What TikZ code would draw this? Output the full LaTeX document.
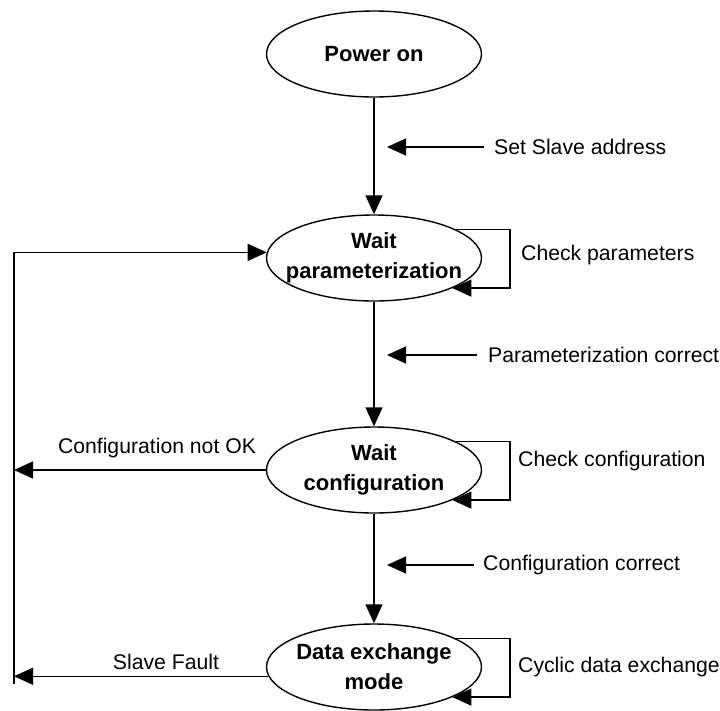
\documentclass[tikz,border=0pt]{standalone}
\usepackage{fontspec}
\setmainfont{Liberation Sans}
\usetikzlibrary{arrows.meta,shapes.geometric}

\tikzset{
  state/.style={draw, ellipse, line width=1.4pt, minimum width=215pt, minimum height=86pt,
    inner xsep=-14pt, inner ysep=0pt, align=center, font=\fontsize{22}{30}\selectfont\bfseries},
  lbl/.style={inner sep=0pt, font=\fontsize{21.2}{25}\selectfont},
  arr/.style={line width=1.4pt, -{Triangle[length=19pt,width=17pt]}},
  wire/.style={line width=1.4pt},
}

\begin{document}
\begin{tikzpicture}[x=1pt,y=-1pt]
  \fill[white] (0,0) rectangle (720,710);
  \useasboundingbox (0,0) rectangle (720,710);

  % states
  \node[state] (pw) at (374,54)  {Power on};
  \node[state] (pa) at (374,258) {Wait\\parameterization};
  \node[state] (cf) at (374,470) {Wait\\configuration};
  \node[state] (dx) at (374,667) {Data exchange\\mode};

  % transitions down the chain
  \draw[arr] (pw.south) -- (pa.north);
  \draw[arr] (pa.south) -- (cf.north);
  \draw[arr] (cf.south) -- (dx.north);

  % event labels with their pointers
  \node[lbl, anchor=west, inner xsep=10pt] (ev1) at (484,147) {Set Slave address};
  \coordinate (t1) at (387,147);
  \draw[arr] (ev1.west) -- (t1);

  \node[lbl, anchor=west, inner xsep=11pt] (ev2) at (477,355) {Parameterization correct};
  \coordinate (t2) at (387,355);
  \draw[arr] (ev2.west) -- (t2);

  \node[lbl, anchor=west, inner xsep=9pt] (ev3) at (474,565) {Configuration correct};
  \coordinate (t3) at (387,565);
  \draw[arr] (ev3.west) -- (t3);

  % self loops
  \coordinate (lp) at (510,0);
  \draw[arr] (pa.19) -- (pa.19 -| lp) -- (pa.-21 -| lp) -- (pa.-21);
  \node[lbl, anchor=west] (sl1) at (521,255) {Check parameters};

  \draw[arr] (cf.19) -- (cf.19 -| lp) -- (cf.-21 -| lp) -- (cf.-21);
  \node[lbl, anchor=west] (sl2) at (518,461) {Check configuration};

  \draw[arr] (dx.19) -- (dx.19 -| lp) -- (dx.-21 -| lp) -- (dx.-21);
  \node[lbl, anchor=west] (sl3) at (518,667) {Cyclic data exchange};

  % return rail on the left
  \coordinate (rail) at (14,0);
  \coordinate (railtop) at (pa.177 -| rail);
  \coordinate (railbot) at (14,684);
  \draw[wire] (railtop) -- (railbot);
  \draw[arr] (railtop) -- (pa.177);

  \draw[arr] (cf.west) -- (cf.west -| rail);
  \node[lbl] (f1) at (157,448) {Configuration not OK};

  \draw[arr] (dx.185) -- (dx.185 -| rail);
  \node[lbl] (f2) at (166,662) {Slave Fault};
\end{tikzpicture}
\end{document}
